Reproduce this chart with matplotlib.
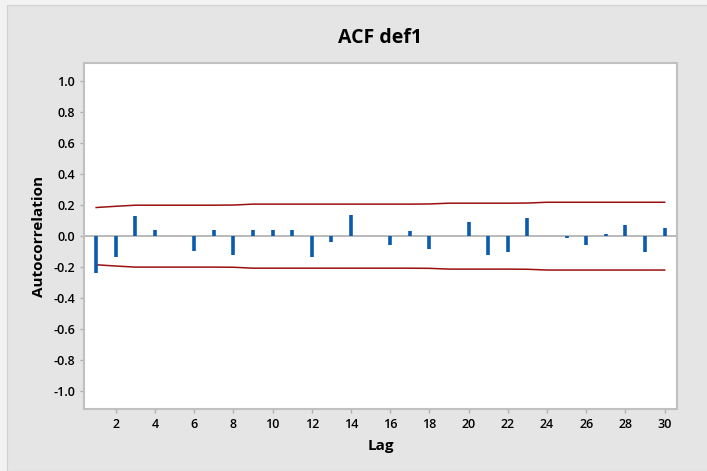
import matplotlib.pyplot as plt
import matplotlib.patches as mpatches

# ACF de def1
lags = list(range(1, 31))
acf = [-0.238, -0.137, 0.128, 0.042, 0.003, -0.093, 0.042, -0.119, 0.042, 0.042,
       0.042, -0.137, -0.039, 0.137, 0.002, -0.054, 0.033, -0.080, 0.002, 0.089,
       -0.119, -0.102, 0.120, 0.002, -0.015, -0.054, 0.017, 0.074, -0.102, 0.050]
# límite superior de confianza (el inferior es simétrico)
ucl = [0.185, 0.193, 0.200, 0.200, 0.200, 0.200, 0.200, 0.201, 0.207, 0.207,
       0.207, 0.207, 0.207, 0.207, 0.207, 0.207, 0.207, 0.208, 0.213, 0.213,
       0.213, 0.213, 0.214, 0.219, 0.219, 0.219, 0.219, 0.219, 0.219, 0.219]
lcl = [-u for u in ucl]
xticks = list(range(2, 31, 2))
yticks = [-1.0, -0.8, -0.6, -0.4, -0.2, 0.0, 0.2, 0.4, 0.6, 0.8, 1.0]

plt.rcParams['font.family'] = ['Open Sans', 'DejaVu Sans']

fig = plt.figure(figsize=(7.07, 4.71), dpi=100, facecolor='#f2f2f2')
# fondo gris del panel
fig.patches.append(mpatches.Rectangle((7/707, 0), 1, 1 - 5/471, transform=fig.transFigure,
                                      facecolor='#e5e5e5', edgecolor='#d0d0d0', lw=0.8, zorder=-5))
ax = fig.add_axes([84/707, 1 - 409/471, (677 - 84)/707, (409 - 63.3)/471])
ax.set_zorder(2)
ax.set_facecolor('white')

ax.axhline(0, color='#b4b4b4', lw=1.3, zorder=1)
ax.vlines(lags, 0, acf, color='#0a5bb0', lw=2.6, zorder=3)
ax.plot(lags, ucl, color='#9a1010', lw=1.1, zorder=2)
ax.plot(lags, lcl, color='#9a1010', lw=1.1, zorder=2)

ax.set_xlim(0.38, 30.63)
ax.set_ylim(-1.117, 1.117)
ax.set_xticks(xticks)
ax.set_yticks(yticks)
ax.set_yticklabels([f'{v:.1f}' for v in yticks])

for s in ax.spines.values():
    s.set_color('#c0c0c0')
    s.set_linewidth(1.5)
ax.tick_params(colors='#b0b0b0', length=3, width=1, labelcolor='black', labelsize=9)
for lbl in ax.get_xticklabels() + ax.get_yticklabels():
    lbl.set_fontweight('semibold')

fig.text(380/707, 1 - 38/471, 'ACF def1', ha='center', va='center', fontsize=14, fontweight='bold')
ax.set_xlabel('Lag', fontsize=11, fontweight='bold', labelpad=6)
ax.set_ylabel('Autocorrelation', fontsize=11, fontweight='bold', labelpad=5)

fig.savefig('out.png', dpi=100, facecolor=fig.get_facecolor())
